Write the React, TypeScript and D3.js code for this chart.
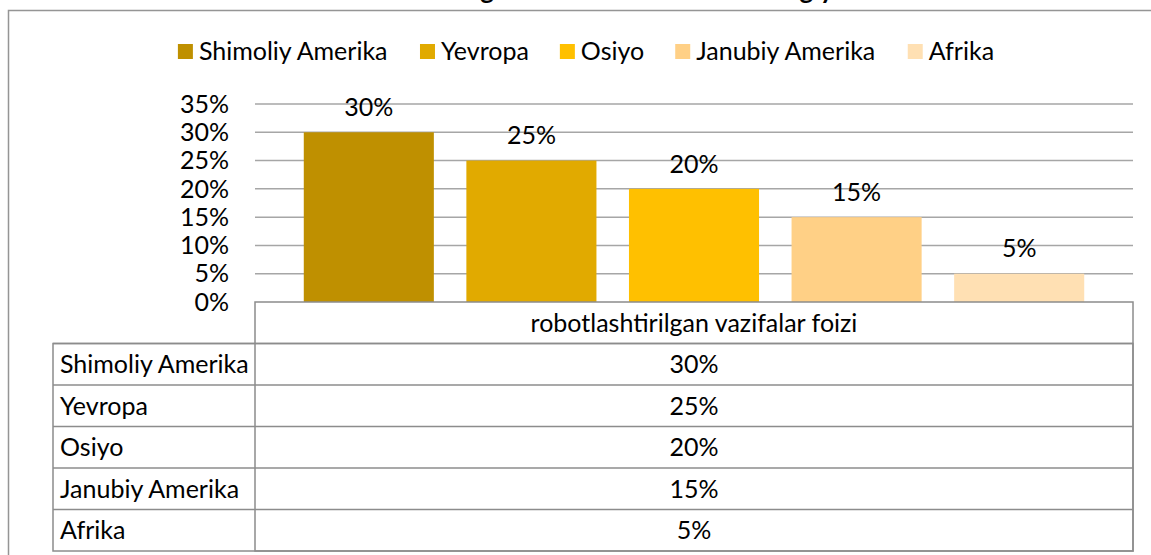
import { useMemo } from "react"
import * as d3 from "d3"

// Data
const CATEGORY = "robotlashtirilgan vazifalar foizi"
const REGIONS = ["Shimoliy Amerika", "Yevropa", "Osiyo", "Janubiy Amerika", "Afrika"]
const VALUES = [0.3, 0.25, 0.2, 0.15, 0.05]
const Y_TICKS = [0, 0.05, 0.1, 0.15, 0.2, 0.25, 0.3, 0.35]
const TITLE = "Robotlashtirilgan vazifalar ulushi: texnologiya"

const COLORS = ["#BF9000", "#E1AA00", "#FFC000", "#FFD086", "#FFE0B3"]

const FONT = "Lato, 'Open Sans', sans-serif"
const FONT_SIZE = 25
const W = 1151
const H = 555

// mise en page
const chartLeft = 8
const chartTop = 10
const chartCenter = 586
const plot = { left: 255, right: 1133, top: 104, bottom: 302 }
const tableLeft = 53
const rowH = 41.5

const fmt = d3.format(".0%")

function measure(text: string, size: number, weight = "normal") {
  const canvas = document.createElement("canvas")
  const ctx = canvas.getContext("2d")
  if (!ctx) return text.length * size * 0.5
  ctx.font = `${weight} ${size}px ${FONT}`
  return ctx.measureText(text).width
}

export default function App() {
  const y = d3.scaleLinear().domain([0, 0.35]).range([plot.bottom, plot.top])
  const x = d3
    .scaleBand<string>()
    .domain(REGIONS)
    .range([plot.left, plot.right])
    .paddingInner(0.2)
    .paddingOuter(0.3)

  // légende centrée
  const legend = useMemo(() => {
    const marker = 15
    const textGap = 6
    const itemGap = 31
    const widths = REGIONS.map((r) => measure(r, FONT_SIZE))
    const total =
      d3.sum(widths) + REGIONS.length * (marker + textGap) + (REGIONS.length - 1) * itemGap
    let cx = chartCenter - total / 2
    return REGIONS.map((r, i) => {
      const item = { name: r, x: cx, color: COLORS[i] }
      cx += marker + textGap + widths[i] + itemGap
      return item
    })
  }, [])

  const tableBottom = plot.bottom + rowH * (REGIONS.length + 1)
  const valueX = (plot.left + plot.right) / 2

  return (
    <svg
      width={W}
      height={H}
      style={{ position: "absolute", left: 0, top: 0, background: "#fff" }}
      fontFamily={FONT}
    >
      <rect x={0} y={0} width={W} height={H} fill="#fff" />

      {/* titre coupé en haut */}
      <text
        x={chartCenter}
        y={-1}
        textAnchor="middle"
        fontWeight="bold"
        fontSize={26}
        fill="#000"
      >
        {TITLE}
      </text>

      {/* bordure du graphique */}
      <rect
        x={chartLeft + 0.5}
        y={chartTop + 0.5}
        width={W + 40}
        height={H + 40}
        fill="none"
        stroke="#959595"
        strokeWidth={1.5}
      />

      {/* légende */}
      {legend.map((d) => (
        <g key={d.name}>
          <rect x={d.x} y={44} width={15} height={15} fill={d.color} />
          <text
            x={d.x + 21}
            y={51}
            dy="0.35em"
            fontSize={FONT_SIZE}
            fill="#000"
          >
            {d.name}
          </text>
        </g>
      ))}

      {/* grille */}
      {Y_TICKS.filter((t) => t > 0).map((t) => (
        <line
          key={t}
          x1={plot.left}
          x2={plot.right}
          y1={y(t)}
          y2={y(t)}
          stroke="#A6A6A6"
          strokeWidth={1.5}
        />
      ))}

      {/* étiquettes axe Y */}
      {Y_TICKS.map((t) => (
        <text
          key={t}
          x={229}
          y={y(t)}
          dy="0.35em"
          textAnchor="end"
          fontSize={FONT_SIZE}
          fill="#000"
        >
          {fmt(t)}
        </text>
      ))}

      {/* barres */}
      {REGIONS.map((r, i) => (
        <g key={r}>
          <rect
            x={x(r)}
            y={y(VALUES[i])}
            width={x.bandwidth()}
            height={y(0) - y(VALUES[i])}
            fill={COLORS[i]}
          />
          <text
            x={(x(r) ?? 0) + x.bandwidth() / 2}
            y={y(VALUES[i]) - 25}
            dy="0.35em"
            textAnchor="middle"
            fontSize={FONT_SIZE}
            fill="#000"
          >
            {fmt(VALUES[i])}
          </text>
        </g>
      ))}

      {/* table de données */}
      <g stroke="#8C8C8C" strokeWidth={1.5} fill="none">
        <rect
          x={plot.left}
          y={plot.bottom}
          width={plot.right - plot.left}
          height={tableBottom - plot.bottom}
        />
        <rect
          x={tableLeft}
          y={plot.bottom + rowH}
          width={plot.right - tableLeft}
          height={tableBottom - plot.bottom - rowH}
        />
        {REGIONS.map((r, i) => (
          <line
            key={r}
            x1={tableLeft}
            x2={plot.right}
            y1={plot.bottom + rowH * (i + 1)}
            y2={plot.bottom + rowH * (i + 1)}
          />
        ))}
      </g>

      <text
        x={valueX}
        y={plot.bottom + rowH / 2}
        dy="0.35em"
        textAnchor="middle"
        fontSize={FONT_SIZE}
        fill="#000"
      >
        {CATEGORY}
      </text>

      {REGIONS.map((r, i) => {
        const cy = plot.bottom + rowH * (i + 1.5)
        return (
          <g key={r} fontSize={FONT_SIZE} fill="#000">
            <text x={tableLeft + 7} y={cy} dy="0.35em">
              {r}
            </text>
            <text x={valueX} y={cy} dy="0.35em" textAnchor="middle">
              {fmt(VALUES[i])}
            </text>
          </g>
        )
      })}
    </svg>
  )
}
